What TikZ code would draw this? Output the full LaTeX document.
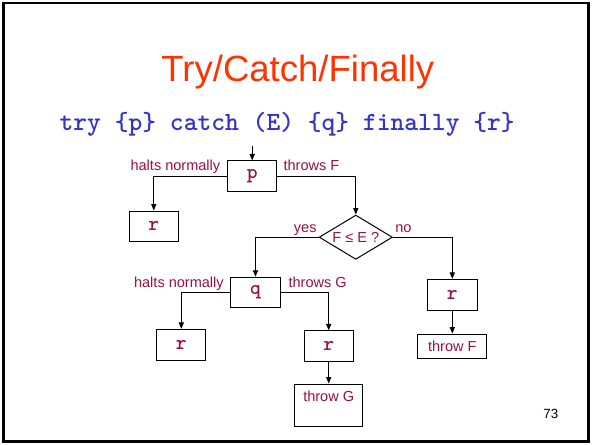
\documentclass[tikz,border=0pt]{standalone}
\usepackage{fontspec}
\setmainfont{Liberation Sans}
\usetikzlibrary{arrows.meta,shapes.geometric}
\definecolor{titlered}{RGB}{255,51,0}
\definecolor{codeblue}{RGB}{51,51,204}
\definecolor{labred}{RGB}{158,14,64}
\tikzset{
  boxnode/.style={draw=black,line width=0.75pt,fill=white,inner sep=0pt,
    minimum width=37pt,minimum height=23pt,text=labred},
  codetext/.style={font=\ttfamily\bfseries\fontsize{15.4pt}{17pt}\selectfont},
  plaintext/.style={font=\fontsize{10.9pt}{13pt}\selectfont},
  lab/.style={plaintext,text=labred,inner sep=0pt},
  decision/.style={draw=black,line width=0.75pt,diamond,inner sep=0pt,aspect=1.66,
    minimum width=55pt,minimum height=33.2pt,text=labred,plaintext},
  flow/.style={draw=black,line width=0.75pt,-{Triangle[length=4.8pt,width=3.8pt]}}
}
\begin{document}
\begin{tikzpicture}[x=0.75pt,y=-0.75pt]
\useasboundingbox (0,0) rectangle (593,444);
% slide frame
\draw[line width=2pt] (3.8,2.9) rectangle (588.5,441.5);

% heading and the statement
\node[anchor=base,inner sep=0pt,text=titlered,font=\fontsize{27.4pt}{32pt}\selectfont] (title) at (297.8,81.7) {Try/Catch/Finally};
\node[anchor=base,inner sep=0pt,text=codeblue,font=\ttfamily\bfseries\fontsize{19.7pt}{22pt}\selectfont] (stmt) at (287.2,130)
  {try \{p\} catch (E) \{q\} finally \{r\}};

% boxes of the flow chart
\coordinate (entry) at (252.2,146);
\node[boxnode,codetext] (p) at (252.2,176.2) {p};
\node[boxnode,codetext] (r1) at (153.8,226.4) {r};
\node[decision] (dec) at (355.8,237.2) {F ≤ E ?};
\node[boxnode,codetext] (q) at (255.5,292.5) {q};
\node[boxnode,codetext] (r2) at (181.3,344.7) {r};
\node[boxnode,codetext] (r3) at (328.7,346.2) {r};
\node[boxnode,minimum width=51.3pt,minimum height=31.5pt,
  label={[lab,anchor=base,label distance=-13.3pt]north:throw G}] (throwG) at (328.7,405) {};
\node[boxnode,codetext,minimum width=37.5pt] (r4) at (452.3,294.7) {r};
\node[boxnode,plaintext,minimum width=51.75pt,minimum height=18.5pt] (throwF) at (452.3,346.4) {throw F};

% connectors
\draw[flow] (entry) -- (p.north);
\draw[flow] (p.west) -| (r1.north);
\draw[flow] (p.east) -| (dec.north);
\draw[flow] (dec.west) -| (q.north);
\draw[flow] (dec.east) -| (r4.north);
\draw[flow] (q.west) -| (r2.north);
\draw[flow] (q.east) -| (r3.north);
\draw[flow] (r3.south) -- (throwG.north);
\draw[flow] (r4.south) -- (throwF.north);

% branch labels
\node[lab,anchor=base east] (hn1) at (220.5,170) {halts normally};
\node[lab,anchor=base west] (tf) at (283.3,170) {throws F};
\node[lab,anchor=base east] (yes) at (316.8,232.3) {yes};
\node[lab,anchor=base west] (no) at (395,232.3) {no};
\node[lab,anchor=base east] (hn2) at (224,287.3) {halts normally};
\node[lab,anchor=base west] (tg) at (288.3,287.3) {throws G};

% page number
\node[anchor=base,inner sep=0pt,font=\fontsize{10pt}{12pt}\selectfont] (pageno) at (550.8,418.3) {73};
\end{tikzpicture}
\end{document}
